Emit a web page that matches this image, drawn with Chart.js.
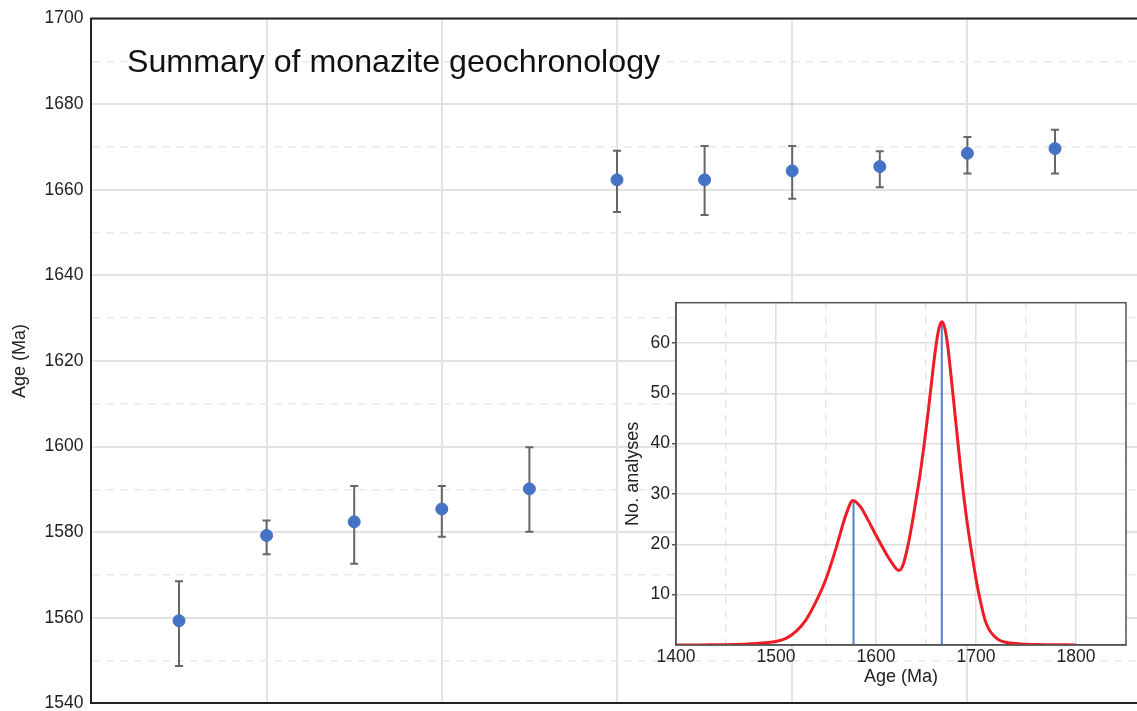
<!DOCTYPE html>
<html><head><meta charset="utf-8">
<script src="https://cdn.jsdelivr.net/npm/chart.js@4.4.0/dist/chart.umd.min.js"></script>
<style>
html,body{margin:0;padding:0;background:#fff;overflow:hidden;width:1137px;height:711px;position:relative;}
#main{position:absolute;left:0;top:0;width:1150px;height:722px;}
#inset{position:absolute;left:600px;top:290px;width:540px;height:410px;}
</style></head><body>
<div id="main"><canvas id="c1"></canvas></div>
<div id="inset"><canvas id="c2"></canvas></div>
<script>
// ---- main chart data ----
const titleText = 'Summary of monazite geochronology';
const sampleIndex = [1, 2, 3, 4, 5, 6, 7, 8, 9, 10, 11];
const ageMa    = [1559.3, 1579.2, 1582.4, 1585.4, 1590.1, 1662.3, 1662.3, 1664.4, 1665.4, 1668.5, 1669.6];
const ageUpper = [1568.5, 1582.7, 1590.8, 1590.8, 1599.8, 1669.1, 1670.2, 1670.2, 1669.0, 1672.3, 1674.0];
const ageLower = [1548.7, 1574.8, 1572.6, 1578.9, 1580.1, 1654.8, 1654.1, 1657.9, 1660.6, 1663.8, 1663.8];
const mainYTickLabels = [1540, 1560, 1580, 1600, 1620, 1640, 1660, 1680, 1700];

// ---- inset (probability density) data ----
const kdeAge   = [1400, 1420, 1440, 1460, 1480, 1490, 1500, 1510, 1520, 1530, 1540, 1550, 1560, 1570, 1577,
                  1585, 1590, 1600, 1610, 1615, 1620, 1623, 1627, 1632, 1636, 1640, 1644, 1648, 1652, 1656,
                  1659, 1662, 1664, 1666, 1668, 1670, 1672, 1675, 1678, 1681, 1684, 1687, 1690, 1693, 1696,
                  1699, 1702, 1705, 1709, 1713, 1718, 1724, 1732, 1745, 1760, 1780, 1800];
const kdeCount = [0, 0, 0.05, 0.1, 0.3, 0.45, 0.7, 1.3, 2.7, 5.0, 8.6, 13.1, 19.2, 25.9, 28.7,
                  27.3, 25.6, 21.8, 18.2, 16.6, 15.2, 14.8, 15.9, 19.8, 24.0, 28.8, 33.8, 39.6, 46.0, 53.0,
                  58.0, 62.0, 63.6, 64.2, 63.5, 61.8, 59.0, 53.5, 47.8, 42.0, 36.2, 30.8, 26.0, 21.8, 17.9,
                  14.3, 11.0, 8.2, 5.0, 3.1, 1.8, 0.9, 0.45, 0.2, 0.1, 0.05, 0];
const peakAge   = [1577.5, 1665.8];
const peakCount = [28.7, 64.2];
const insetXTickLabels = [1400, 1500, 1600, 1700, 1800];
const insetYTickLabels = [10, 20, 30, 40, 50, 60];

const FONT = '"Liberation Sans", Arial, Helvetica, sans-serif';
Chart.defaults.font.family = FONT;
Chart.defaults.color = '#222';

const mainDeco = {
  id: 'mainDeco',
  beforeDatasetsDraw(chart) {
    const {ctx, scales: {x, y}} = chart;
    ctx.save();
    ctx.strokeStyle = '#666';
    ctx.lineWidth = 2;
    sampleIndex.forEach((s, i) => {
      const px = x.getPixelForValue(s);
      const t = y.getPixelForValue(ageUpper[i]);
      const b = y.getPixelForValue(ageLower[i]);
      ctx.beginPath();
      ctx.moveTo(px, t); ctx.lineTo(px, b);
      ctx.moveTo(px - 4, t); ctx.lineTo(px + 4, t);
      ctx.moveTo(px - 4, b); ctx.lineTo(px + 4, b);
      ctx.stroke();
    });
    ctx.restore();
  },
  afterDraw(chart) {
    const {ctx, chartArea: a} = chart;
    ctx.save();
    ctx.strokeStyle = '#222';
    ctx.lineWidth = 2;
    ctx.beginPath();
    ctx.moveTo(a.left - 1, a.top); ctx.lineTo(a.right, a.top);
    ctx.stroke();
    ctx.fillStyle = '#111';
    ctx.font = '32.2px ' + FONT;
    ctx.textBaseline = 'alphabetic';
    ctx.textAlign = 'left';
    ctx.fillText(titleText, a.left + 35.6, 71.5);
    ctx.restore();
  }
};

new Chart(document.getElementById('c1'), {
  type: 'scatter',
  data: {
    datasets: [{
      data: sampleIndex.map((s, i) => ({x: s, y: ageMa[i]})),
      backgroundColor: '#4472c4',
      borderColor: '#4472c4',
      borderWidth: 1,
      pointRadius: 6,
      pointHoverRadius: 6
    }]
  },
  options: {
    responsive: true,
    maintainAspectRatio: false,
    animation: false,
    events: [],
    layout: {padding: {left: 0, top: 15.7, right: 7.4, bottom: 18.7}},
    plugins: {legend: {display: false}, tooltip: {enabled: false}, title: {display: false}},
    scales: {
      x: {
        type: 'linear', min: 0, max: 12,
        afterFit(s) { s.height = 0; },
        ticks: {display: false, stepSize: 2},
        grid: {color: '#e2e2e2', lineWidth: 2, drawTicks: false},
        border: {display: true, color: '#222', width: 2}
      },
      y: {
        type: 'linear', min: 1540, max: 1700,
        afterFit(s) { s.width = 91.4; },
        ticks: {
          stepSize: 10, autoSkip: false, padding: 8,
          font: {size: 17.5},
          color: '#222',
          callback: (v) => mainYTickLabels.includes(v) ? String(v) : ''
        },
        grid: {
          drawTicks: false,
          color: (c) => (c.tick && c.tick.value % 20 !== 0) ? '#e9e9e9' : '#e2e2e2',
          lineWidth: (c) => (c.tick && c.tick.value % 20 !== 0) ? 1.5 : 2
        },
        border: {
          display: true, color: '#222', width: 2,
          dash: (c) => (c.tick && c.tick.value % 20 !== 0) ? [8, 6] : []
        },
        title: {display: true, text: 'Age (Ma)', font: {size: 18}, color: '#222', padding: {top: 9.2, bottom: 0}}
      }
    }
  },
  plugins: [mainDeco]
});

const insetDeco = {
  id: 'insetDeco',
  beforeDraw(chart) {
    const {ctx, chartArea: a} = chart;
    ctx.save();
    ctx.fillStyle = '#fff';
    ctx.fillRect(a.left, a.top, a.right - a.left, a.bottom - a.top);
    ctx.restore();
  },
  afterDraw(chart) {
    const {ctx, chartArea: a} = chart;
    ctx.save();
    ctx.strokeStyle = '#555';
    ctx.lineWidth = 1.5;
    ctx.strokeRect(a.left, a.top, a.right - a.left, a.bottom - a.top);
    ctx.restore();
  }
};

new Chart(document.getElementById('c2'), {
  type: 'scatter',
  data: {
    datasets: [
      {
        data: kdeAge.map((a, i) => ({x: a, y: kdeCount[i]})),
        showLine: true, borderColor: '#ee1c25', borderWidth: 3,
        pointRadius: 0, cubicInterpolationMode: 'monotone', fill: false
      },
      ...peakAge.map((a, i) => ({
        data: [{x: a, y: 0}, {x: a, y: peakCount[i]}],
        showLine: true, borderColor: '#5580c8', borderWidth: 2, pointRadius: 0, fill: false
      }))
    ]
  },
  options: {
    responsive: true,
    maintainAspectRatio: false,
    animation: false,
    events: [],
    layout: {padding: {left: 0, top: 12.7, right: 14, bottom: 10}},
    plugins: {legend: {display: false}, tooltip: {enabled: false}},
    scales: {
      x: {
        type: 'linear', min: 1400, max: 1850,
        afterFit(s) { s.height = 45; },
        ticks: {
          stepSize: 50, autoSkip: false, maxRotation: 0, padding: 2,
          font: {size: 17.5}, color: '#222',
          callback: (v) => insetXTickLabels.includes(v) ? String(v) : ''
        },
        grid: {
          drawTicks: false,
          color: (c) => (c.tick && c.tick.value % 100 !== 0) ? '#e6e6e6' : '#dedede',
          lineWidth: 1.5
        },
        border: {
          display: true, color: '#555', width: 1.5,
          dash: (c) => (c.tick && c.tick.value % 100 !== 0) ? [7, 7] : []
        },
        title: {display: true, text: 'Age (Ma)', font: {size: 18}, color: '#222', padding: {top: 0, bottom: 2.5}}
      },
      y: {
        type: 'linear', min: 0, max: 68,
        afterFit(s) { s.width = 76; },
        ticks: {
          stepSize: 10, autoSkip: false, padding: 2,
          font: {size: 17.5}, color: '#222',
          callback: (v) => insetYTickLabels.includes(v) ? String(v) : ''
        },
        grid: {
          tickLength: 4,
          color: (c) => (c.tick && insetYTickLabels.includes(c.tick.value)) ? '#dedede' : 'rgba(0,0,0,0)',
          tickColor: (c) => (c.tick && insetYTickLabels.includes(c.tick.value)) ? '#555' : 'rgba(0,0,0,0)',
          lineWidth: 1.5
        },
        border: {display: true, color: '#555', width: 1.5},
        title: {display: true, text: 'No. analyses', font: {size: 18}, color: '#222', padding: {top: 22.2, bottom: 0}}
      }
    }
  },
  plugins: [insetDeco]
});
</script>
</body></html>
